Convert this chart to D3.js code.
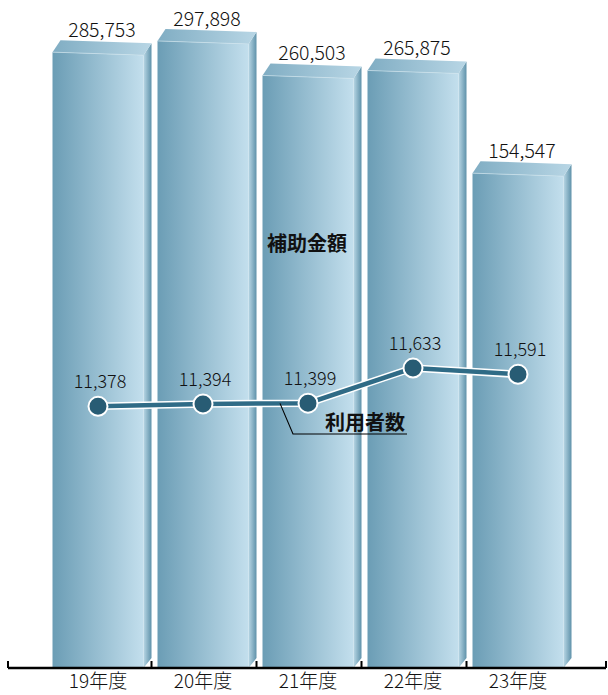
<!DOCTYPE html>
<html><head><meta charset="utf-8">
<script src="https://cdn.jsdelivr.net/npm/d3@7"></script>
<style>
html,body{margin:0;padding:0;background:#fff;}
svg{display:block;font-family:"Noto Sans CJK JP","Noto Sans",sans-serif;}
</style></head>
<body>
<svg id="chart" width="608" height="695"></svg>
<script>
const years = ["19年度","20年度","21年度","22年度","23年度"];
const subsidy = [285753, 297898, 260503, 265875, 154547];   // 補助金額
const users = [11378, 11394, 11399, 11633, 11591];          // 利用者数
const subsidyLabel = "補助金額";
const usersLabel = "利用者数";

const W = 608, H = 695;
const baseY = 668;
const svg = d3.select("#chart");
const fmt = d3.format(",");

const x = d3.scaleBand().domain(years).range([46.5, 571.5]).paddingInner(0).paddingOuter(0);
const y = d3.scaleLinear().domain([-382000, 300000]).range([baseY, 39]);
const yU = d3.scaleLinear().domain([11300, 11700]).range([418, 358]);

const defs = svg.append("defs");
function grad(id, stops){
  const g = defs.append("linearGradient").attr("id", id).attr("x1","0%").attr("x2","100%").attr("y1","0%").attr("y2","0%");
  stops.forEach(s => g.append("stop").attr("offset", s[0]).attr("stop-color", s[1]));
}
grad("gFront", [["0%","#6b9db5"],["100%","#c3dfed"]]);
grad("gTop", [["0%","#80adc3"],["100%","#b8d6e5"]]);
grad("gSide", [["0%","#b9d7e5"],["100%","#5f92aa"]]);

const off = 6, bw = 91, dx = 8, dy = 12, tilt = 3;

const bars = svg.append("g").selectAll("g").data(years.map((yr,i)=>({yr, v: subsidy[i]}))).join("g");
bars.each(function(d){
  const g = d3.select(this);
  const x0 = x(d.yr) + off, x1 = x0 + bw, yt = y(d.v);
  g.append("path").attr("fill","url(#gSide)")
    .attr("d", `M${x1},${yt+tilt} L${x1+dx},${yt-dy+tilt} L${x1+dx},${baseY-dy+2} L${x1},${baseY} Z`);
  g.append("path").attr("fill","url(#gTop)")
    .attr("d", `M${x0},${yt} L${x0+dx},${yt-dy} L${x1+dx},${yt-dy+tilt} L${x1},${yt+tilt} Z`);
  g.append("path").attr("fill","url(#gFront)")
    .attr("d", `M${x0},${yt} L${x1},${yt+tilt} L${x1},${baseY} L${x0},${baseY} Z`);
  g.append("line").attr("x1",x0).attr("y1",yt).attr("x2",x1).attr("y2",yt+tilt)
    .attr("stroke","#cfe4ee").attr("stroke-width",0.8).attr("opacity",0.8);
  g.append("text").attr("x", x0 + bw/2 + dx/2).attr("y", yt - dy - 3)
    .attr("text-anchor","middle").attr("font-size",19.5).attr("font-weight",300).attr("fill","#111")
    .text(fmt(d.v));
});

// axis
const ax = svg.append("g");
ax.append("line").attr("x1",8).attr("x2",606).attr("y1",baseY).attr("y2",baseY)
  .attr("stroke","#000").attr("stroke-width",2.5);
const tickXs = [8, ...years.slice(1).map(d => x(d)), 606];
ax.selectAll("line.tk").data(tickXs).join("line").attr("class","tk")
  .attr("x1",d=>d).attr("x2",d=>d).attr("y1",baseY-7).attr("y2",baseY)
  .attr("stroke","#000").attr("stroke-width",2);
ax.selectAll("text").data(years).join("text")
  .attr("x", d => x(d) + x.bandwidth()/2 - 1).attr("y", 688)
  .attr("text-anchor","middle").attr("font-size",19).attr("font-weight",300).attr("fill","#111").text(d=>d);

// line series
const pts = years.map((yr,i)=>({yr, v: users[i], cx: x(yr)+x.bandwidth()/2 - 1, cy: yU(users[i])}));
const lineGen = d3.line().x(d=>d.cx).y(d=>d.cy);
const lg = svg.append("g");
lg.append("path").attr("d", lineGen(pts)).attr("fill","none").attr("stroke","#fff").attr("stroke-width",7.5);
lg.append("path").attr("d", lineGen(pts)).attr("fill","none").attr("stroke","#2f6b86").attr("stroke-width",4.5);
lg.selectAll("circle").data(pts).join("circle")
  .attr("cx",d=>d.cx).attr("cy",d=>d.cy).attr("r",9.5)
  .attr("fill","#285c74").attr("stroke","#fff").attr("stroke-width",2);
lg.selectAll("text").data(pts).join("text")
  .attr("x",d=>d.cx+2).attr("y",d=>d.cy-18).attr("text-anchor","middle")
  .attr("font-size",18).attr("font-weight",300).attr("fill","#111").text(d=>fmt(d.v));

// annotations
svg.append("text").attr("x",267).attr("y",251).attr("font-size",20).attr("font-weight","bold")
  .attr("fill","#111").text(subsidyLabel);
const p1 = pts[1], p2 = pts[2];
const t = (280 - p1.cx) / (p2.cx - p1.cx);
const ly = p1.cy + t*(p2.cy - p1.cy);
svg.append("path").attr("d", `M280,${ly} L293,434 L407,434`).attr("fill","none")
  .attr("stroke","#000").attr("stroke-width",1.1);
svg.append("text").attr("x",325).attr("y",430).attr("font-size",20).attr("font-weight","bold")
  .attr("fill","#111").text(usersLabel);
</script>
</body></html>
